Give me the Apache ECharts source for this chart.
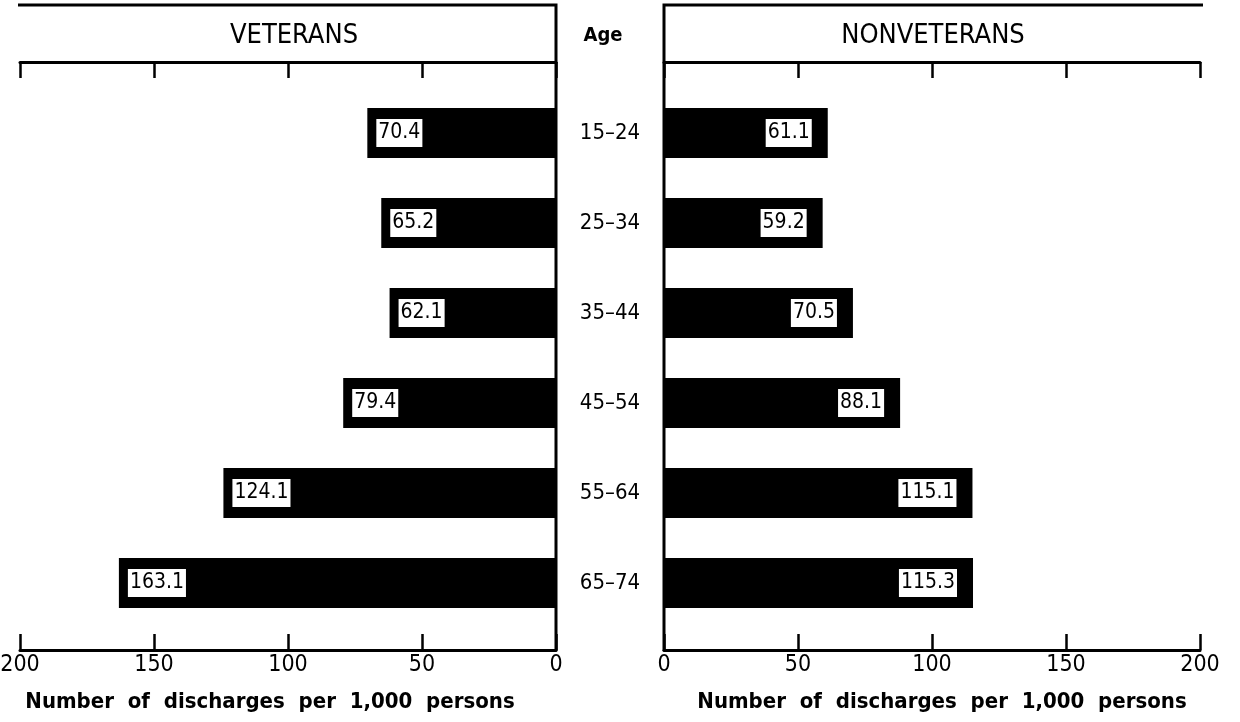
<!DOCTYPE html>
<html><head><meta charset="utf-8">
<script src="https://cdn.jsdelivr.net/npm/echarts@6/dist/echarts.min.js"></script>
<style>html,body{margin:0;padding:0;background:#fff}#c{width:1240px;height:722px}</style>
</head><body><div id="c"></div>
<script>
const ages = ['15–24','25–34','35–44','45–54','55–64','65–74'];
const veterans = [70.4, 65.2, 62.1, 79.4, 124.1, 163.1];
const nonveterans = [61.1, 59.2, 70.5, 88.1, 115.1, 115.3];
const tickValues = [0, 50, 100, 150, 200];
const axisTitle = 'Number  of  discharges  per  1,000  persons';

const F = '"DejaVu Sans Condensed", "DejaVu Sans", sans-serif';
const chart = echarts.init(document.getElementById('c'), null, {renderer:'canvas'});

function xAxes(gridIndex, inverse, namePad) {
  const common = {
    gridIndex, type:'value', min:0, max:200, interval:50, inverse,
    splitLine:{show:false},
    axisLine:{show:true, lineStyle:{color:'#000', width:3}}
  };
  return [
    Object.assign({}, common, {
      position:'bottom', offset:22,
      axisTick:{show:true, inside:true, length:16, lineStyle:{color:'#000', width:2.5}},
      axisLabel:{show:true, color:'#000', fontFamily:F, fontSize:23, margin:4,
        formatter: v => tickValues.includes(v) ? String(v) : ''},
      name: axisTitle, nameLocation:'middle', nameGap:41,
      nameTextStyle:{color:'#000', fontFamily:F, fontWeight:'bold', fontSize:22, padding:namePad}
    }),
    Object.assign({}, common, {
      position:'top', offset:26,
      axisTick:{show:true, inside:true, length:16, lineStyle:{color:'#000', width:2.5}},
      axisLabel:{show:false}
    })
  ];
}

const labelBase = {
  show:true, color:'#000', fontFamily:F, fontSize:21, lineHeight:21,
  backgroundColor:'#fff', borderColor:'#000', borderWidth:2,
  padding:[5,2,2,2], formatter: p => p.value.toFixed(1)
};

chart.setOption({
  animation:false,
  backgroundColor:'#fff',
  grid:[
    {left:20, width:536, top:88, height:540, containLabel:false, outerBoundsMode:'none'},
    {left:664, width:536, top:88, height:540, containLabel:false, outerBoundsMode:'none'}
  ],
  xAxis: xAxes(0, true, [0,36,0,0]).concat(xAxes(1, false, [0,0,0,20])),
  yAxis:[
    {gridIndex:0, type:'category', data:ages, inverse:true, position:'right',
     axisLine:{show:false}, axisTick:{show:false},
     axisLabel:{show:true, color:'#000', fontFamily:F, fontSize:22, align:'center', margin:54}},
    {gridIndex:1, type:'category', data:ages, inverse:true,
     axisLine:{show:false}, axisTick:{show:false}, axisLabel:{show:false}}
  ],
  series:[
    {type:'bar', name:'Veterans', xAxisIndex:0, yAxisIndex:0, data:veterans,
     barWidth:50, itemStyle:{color:'#000'},
     label:Object.assign({}, labelBase, {position:'insideLeft', distance:9})},
    {type:'bar', name:'Nonveterans', xAxisIndex:2, yAxisIndex:1, data:nonveterans,
     barWidth:50, itemStyle:{color:'#000'},
     label:Object.assign({}, labelBase, {position:'insideRight', distance:16})}
  ],
  graphic:[
    {type:'polyline', shape:{points:[[18,5],[556,5],[556,651]]}, style:{stroke:'#000', lineWidth:3, fill:null}},
    {type:'polyline', shape:{points:[[1203,5],[664,5],[664,651]]}, style:{stroke:'#000', lineWidth:3, fill:null}},
    {type:'text', x:294, y:36, style:{text:'VETERANS', fill:'#000', font:'27px '+F, textAlign:'center', textVerticalAlign:'middle'}},
    {type:'text', x:933, y:36, style:{text:'NONVETERANS', fill:'#000', font:'27px '+F, textAlign:'center', textVerticalAlign:'middle'}},
    {type:'text', x:603, y:36, style:{text:'Age', fill:'#000', font:'bold 20px '+F, textAlign:'center', textVerticalAlign:'middle'}}
  ]
});
</script></body></html>
